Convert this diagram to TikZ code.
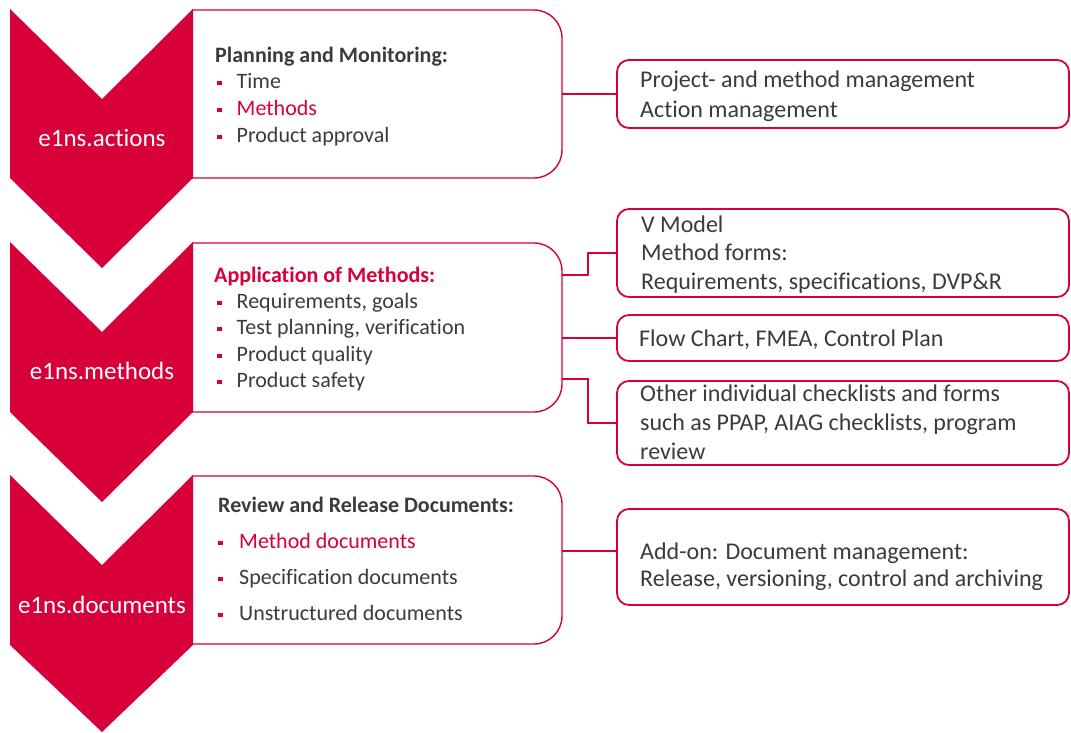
\documentclass[tikz,border=0pt]{standalone}
\usepackage{fontspec}
\setmainfont{Carlito}[Ligatures=NoCommon,Contextuals=NoAlternate,RawFeature={-calt;-dlig;-clig}]
\definecolor{ered}{RGB}{215,0,58}
\definecolor{etext}{RGB}{55,61,61}
\newcommand\bul[1]{\textcolor{ered}{\rule[3pt]{4.5pt}{4.5pt}}\hspace{#1}}
\begin{document}
\begin{tikzpicture}[x=1pt,y=-1pt,
 conn/.style={draw=ered,line width=1.8pt},
 midbox/.style={draw=ered,line width=1.4pt,fill=white,rounded corners=28pt,minimum width=400pt,inner sep=0pt,outer sep=0pt},
 rbox/.style={draw=ered,line width=1.8pt,fill=white,rounded corners=12pt,minimum width=452pt,inner sep=0pt,outer sep=0pt,anchor=north west},
 chev/.style={fill=ered},
 clabel/.style={text=white,font=\fontsize{25}{30}\selectfont,anchor=base,inner sep=0pt},
 mtext/.style={text=etext,font=\fontsize{22}{26}\selectfont,anchor=base west,inner sep=0pt},
 mtitle/.style={text=etext,font=\fontsize{22}{26}\selectfont\bfseries,anchor=base west,inner sep=0pt},
 rtext/.style={text=etext,font=\fontsize{24}{29}\selectfont,anchor=base west,inner sep=0pt},
]
\useasboundingbox (0,0) rectangle (1071,732);

% middle boxes (left part hidden)
\begin{scope}
\clip (192,0) rectangle (620,732);
\node[midbox,minimum height=168pt] (m1) at (362,94) {};
\node[midbox,minimum height=169pt] (m2) at (362,327.5) {};
\node[midbox,minimum height=168pt] (m3) at (362,560) {};
\end{scope}

% chevrons
\fill[chev] (10,9) -- (102,99) -- (193,9) -- (193,178) -- (102,268) -- (10,178) -- cycle;
\fill[chev] (10,242) -- (102,332) -- (193,242) -- (193,412) -- (102,502) -- (10,412) -- cycle;
\fill[chev] (10,475) -- (102,565) -- (193,475) -- (193,645) -- (102,732) -- (10,645) -- cycle;

\node[clabel] (c1) at (102,146) {e1ns.actions};
\node[clabel] (c2) at (102,379) {e1ns.methods};
\node[clabel] (c3) at (102,613) {e1ns.documents};

% middle box texts
\node[mtitle] (t1) at (215,62) {Planning and Monitoring:};
\node[mtext] (t1a) at (217,88) {\bul{15pt}Time};
\node[mtext] (t1b) at (217,115) {\bul{15pt}\textcolor{ered}{Methods}};
\node[mtext] (t1c) at (217,142) {\bul{15pt}Product approval};

\node[mtitle,text=ered] (t2) at (214,282) {Application of Methods:};
\node[mtext] (t2a) at (217,308) {\bul{15pt}Requirements, goals};
\node[mtext] (t2b) at (217,334) {\bul{15pt}Test planning, verification};
\node[mtext] (t2c) at (217,361) {\bul{15pt}Product quality};
\node[mtext] (t2d) at (217,387) {\bul{15pt}Product safety};

\node[mtitle] (t3) at (218,512) {Review and Release Documents:};
\node[mtext] (t3a) at (218,548) {\bul{16.5pt}\textcolor{ered}{Method documents}};
\node[mtext] (t3b) at (218,584) {\bul{16.5pt}Specification documents};
\node[mtext] (t3c) at (218,620) {\bul{16.5pt}Unstructured documents};

% right boxes
\node[rbox,minimum height=68pt] (r1) at (617,60) {};
\node[rbox,minimum height=88pt] (r2) at (617,209) {};
\node[rbox,minimum height=46pt] (r3) at (617,315) {};
\node[rbox,minimum height=84pt] (r4) at (617,381) {};
\node[rbox,minimum height=96pt] (r5) at (617,509) {};

\node[rtext] (s1a) at (640,87) {Project- and method management};
\node[rtext] (s1b) at (640,117) {Action management};
\node[rtext] (s2a) at (641,232) {V Model};
\node[rtext] (s2b) at (641,260) {Method forms:};
\node[rtext] (s2c) at (641,289) {Requirements, specifications, DVP\&R};
\node[rtext] (s3a) at (639,346) {Flow Chart, FMEA, Control Plan};
\node[rtext] (s4a) at (640,401) {Other individual checklists and forms};
\node[rtext] (s4b) at (640,430) {such as PPAP, AIAG checklists, program};
\node[rtext] (s4c) at (640,459) {review};
\node[rtext] (s5a) at (640,559) {Add-on: Document management:};
\node[rtext] (s5b) at (640,586) {Release, versioning, control and archiving};

% connectors
\draw[conn] (m1.east) -- (r1.west);
\draw[conn] (m2.east |- 0,275) -- (588,275) |- (r2.west);
\draw[conn] (m2.east |- r3.west) -- (r3.west);
\draw[conn] (m2.east |- 0,379) -- (588,379) |- (r4.west);
\draw[conn] (m3.east |- 0,551) -- (r5.west |- 0,551);
\end{tikzpicture}
\end{document}
